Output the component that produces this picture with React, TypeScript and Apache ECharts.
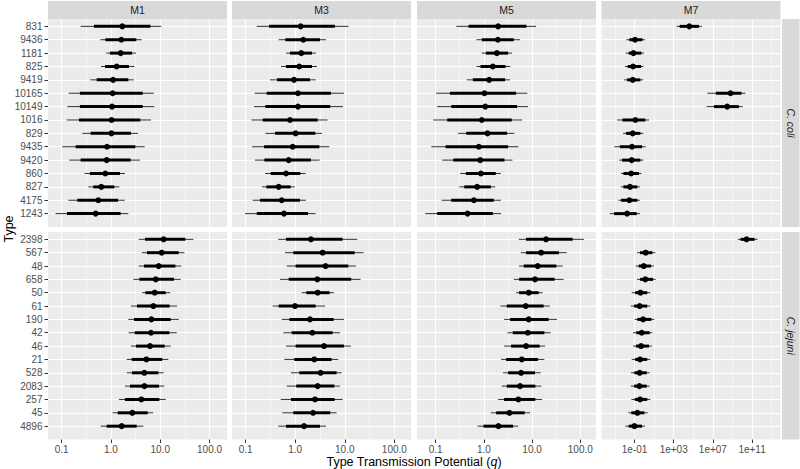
import React, { useEffect, useRef } from "react";
import * as echarts from "echarts";

// ---------- data ----------
const models = ["M1", "M3", "M5", "M7"];
const species = ["C. coli", "C. jejuni"];

const coliTypes = ["831", "9436", "1181", "825", "9419", "10165", "10149", "1016", "829", "9435", "9420", "860", "827", "4175", "1243"];
const jejuniTypes = ["2398", "567", "48", "658", "50", "61", "190", "42", "46", "21", "528", "2083", "257", "45", "4896"];

// each row: [lower 95%, lower 50%, median, upper 50%, upper 95%] in type order (top to bottom)
const coliM1 = [
  [0.242, 0.452, 1.7, 6.3, 10.5],
  [0.607, 0.767, 1.62, 3.27, 4.2],
  [0.804, 0.955, 1.57, 2.67, 3.22],
  [0.627, 0.755, 1.3, 2.32, 2.98],
  [0.38, 0.512, 1.1, 2.25, 2.89],
  [0.138, 0.234, 1.08, 4.4, 7.36],
  [0.13, 0.234, 1.05, 4.4, 7.59],
  [0.126, 0.224, 1.03, 3.94, 6.49],
  [0.262, 0.386, 1.02, 2.55, 3.53],
  [0.103, 0.192, 0.83, 3.12, 4.83],
  [0.142, 0.242, 0.817, 2.51, 3.88],
  [0.292, 0.374, 0.767, 1.52, 1.92],
  [0.347, 0.438, 0.636, 1.17, 1.48],
  [0.136, 0.207, 0.553, 1.39, 1.9],
  [0.075, 0.128, 0.489, 1.57, 2.25],
];
const coliM3 = [
  [0.168, 0.297, 1.29, 6.34, 11.9],
  [0.465, 0.634, 1.46, 3.16, 4.18],
  [0.654, 0.787, 1.33, 2.18, 2.63],
  [0.519, 0.654, 1.21, 2.18, 2.75],
  [0.311, 0.431, 0.947, 1.99, 2.59],
  [0.153, 0.267, 1.14, 5.26, 9.62],
  [0.148, 0.251, 1.14, 5.1, 9.18],
  [0.131, 0.222, 0.787, 2.84, 4.51],
  [0.251, 0.393, 1.02, 2.55, 3.47],
  [0.135, 0.236, 0.891, 3.07, 4.87],
  [0.155, 0.239, 0.74, 2.08, 3.11],
  [0.247, 0.321, 0.654, 1.27, 1.63],
  [0.215, 0.263, 0.465, 0.812, 0.977],
  [0.139, 0.196, 0.535, 1.25, 1.65],
  [0.0977, 0.168, 0.596, 1.81, 2.59],
];
const coliM5 = [
  [0.268, 0.482, 1.98, 7.63, 12.1],
  [0.705, 0.909, 1.95, 4.18, 5.65],
  [0.909, 1.1, 1.86, 3.19, 3.86],
  [0.705, 0.853, 1.54, 2.81, 3.51],
  [0.445, 0.592, 1.29, 2.76, 3.51],
  [0.103, 0.198, 1.03, 4.67, 8.0],
  [0.108, 0.211, 1.07, 4.89, 8.26],
  [0.0895, 0.174, 0.909, 3.8, 6.21],
  [0.294, 0.431, 1.19, 3.04, 4.31],
  [0.0814, 0.161, 0.788, 3.19, 5.21],
  [0.137, 0.232, 0.84, 2.68, 3.92],
  [0.324, 0.424, 0.867, 1.77, 2.25],
  [0.309, 0.392, 0.728, 1.4, 1.72],
  [0.133, 0.211, 0.621, 1.61, 2.25],
  [0.0611, 0.108, 0.459, 1.54, 2.28],
];
const coliM7 = [
  [2.0e3, 4.1e3, 3.9e4, 3.8e5, 7.6e5],
  [0.015, 0.03, 0.114, 0.64, 1.19],
  [0.0128, 0.0257, 0.0776, 0.505, 0.94],
  [0.011, 0.0205, 0.0715, 0.467, 0.81],
  [0.0087, 0.0175, 0.066, 0.4, 0.746],
  [2.7e6, 2.0e7, 6.3e8, 8.3e9, 2.1e10],
  [2.3e6, 1.3e7, 2.9e8, 4.5e9, 1.1e10],
  [0.00167, 0.00585, 0.123, 1.29, 3.05],
  [0.0069, 0.0138, 0.066, 0.4, 0.81],
  [0.00089, 0.0032, 0.056, 0.59, 1.39],
  [0.0027, 0.0054, 0.052, 0.4, 0.81],
  [0.0043, 0.0074, 0.045, 0.29, 0.505],
  [0.004, 0.0074, 0.035, 0.197, 0.37],
  [0.0023, 0.0043, 0.03, 0.197, 0.37],
  [0.0003, 0.00083, 0.0174, 0.17, 0.37],
];
const jejuniM1 = [
  [3.65, 4.91, 11.7, 32.3, 47.0],
  [4.2, 5.38, 10.7, 23.7, 30.9],
  [3.65, 4.68, 9.29, 20.3, 26.8],
  [2.84, 3.76, 8.08, 19.0, 26.0],
  [4.26, 4.98, 7.71, 12.9, 16.0],
  [2.55, 3.37, 7.24, 15.5, 21.9],
  [2.25, 2.93, 6.59, 16.3, 23.7],
  [2.28, 3.03, 6.49, 15.3, 21.6],
  [2.55, 3.22, 6.2, 12.3, 16.3],
  [2.08, 2.63, 5.22, 11.0, 14.6],
  [2.11, 2.67, 4.75, 9.15, 11.7],
  [1.92, 2.43, 4.75, 9.44, 12.1],
  [1.45, 1.92, 4.13, 9.59, 12.9],
  [1.08, 1.37, 2.71, 5.56, 7.13],
  [0.617, 0.817, 1.65, 3.32, 4.54],
];
const jejuniM3 = [
  [0.458, 0.654, 2.08, 9.04, 17.9],
  [0.624, 0.918, 3.58, 15.8, 23.9],
  [0.675, 1.02, 4.11, 11.8, 16.8],
  [0.495, 0.74, 2.8, 13.5, 20.8],
  [1.35, 1.68, 2.84, 4.95, 6.05],
  [0.352, 0.465, 0.99, 2.59, 3.99],
  [0.535, 0.764, 1.99, 5.96, 9.62],
  [0.578, 0.85, 2.22, 5.69, 8.0],
  [0.654, 1.02, 3.81, 9.62, 13.3],
  [0.605, 0.96, 2.43, 5.43, 7.4],
  [0.824, 1.21, 3.26, 6.85, 8.63],
  [0.675, 1.05, 2.84, 6.15, 8.0],
  [0.511, 0.824, 2.51, 6.24, 9.04],
  [0.552, 0.918, 2.29, 5.1, 6.85],
  [0.458, 0.654, 1.51, 3.16, 4.18],
];
const jejuniM5 = [
  [5.3, 7.51, 19.5, 69.4, 119],
  [5.83, 7.51, 15.4, 36.2, 52.1],
  [5.38, 6.72, 13.1, 31.9, 43.1],
  [4.18, 5.38, 11.5, 29.4, 45.2],
  [4.67, 5.38, 8.53, 13.7, 16.6],
  [2.21, 2.99, 7.39, 17.4, 23.2],
  [2.63, 3.51, 8.53, 22.1, 32.9],
  [3.09, 3.98, 8.13, 18.0, 24.3],
  [2.63, 3.68, 7.51, 14.4, 18.6],
  [2.28, 2.9, 6.11, 13.3, 18.0],
  [2.51, 3.19, 5.92, 11.5, 15.1],
  [2.36, 2.99, 5.65, 11.7, 15.6],
  [1.98, 2.63, 5.21, 11.7, 16.1],
  [1.4, 1.8, 3.4, 7.05, 9.09],
  [0.74, 0.984, 2.01, 4.04, 5.13],
];
const jejuniM7 = [
  [3.5e9, 6.6e9, 2.7e10, 1.8e11, 3.6e11],
  [0.18, 0.37, 1.39, 6.6, 13.5],
  [0.134, 0.27, 0.87, 4.9, 9.8],
  [0.18, 0.37, 1.29, 7.8, 14.6],
  [0.052, 0.115, 0.4, 2.0, 4.17],
  [0.041, 0.091, 0.34, 2.0, 4.17],
  [0.106, 0.197, 0.75, 5.3, 10.6],
  [0.071, 0.154, 0.55, 3.55, 6.6],
  [0.071, 0.144, 0.47, 3.03, 6.1],
  [0.052, 0.115, 0.37, 2.0, 4.17],
  [0.045, 0.098, 0.34, 1.76, 3.55],
  [0.041, 0.091, 0.32, 1.76, 3.55],
  [0.048, 0.106, 0.37, 2.0, 4.17],
  [0.024, 0.048, 0.197, 1.02, 2.24],
  [0.0118, 0.0257, 0.098, 0.59, 1.19],
];

// tick values (q)
const majorTicksQ = [0.1, 1, 10, 100];
const minorTicksQ = [0.3162, 3.162, 31.62, 316.2];
const majorTicksM7 = [0.1, 1e3, 1e7, 1e11];
const minorTicksM7 = [1e-3, 10, 1e5, 1e9, 1e13];

// ---------- layout ----------
const FONT = "'Liberation Sans', Arial, Helvetica, sans-serif";
const colLeft = [48, 232, 417, 601.5];
const panelW = 179;
const rowTop = [19, 232];
const rowH = [208, 207.5];
// panel x extents in log10 units
const xRange = [
  [-1.278, 2.354],
  [-1.274, 2.336],
  [-1.386, 2.326],
  [-4.367, 13.9],
];

const panelData = [
  [coliM1, coliM3, coliM5, coliM7],
  [jejuniM1, jejuniM3, jejuniM5, jejuniM7],
];
const rowTypes = [coliTypes, jejuniTypes];

const lg = (v: number) => Math.log10(v);

function fmtLinear(v: number) {
  return Math.pow(10, v).toFixed(1);
}
function fmtSci(v: number) {
  const e = Math.round(v);
  const s = String(Math.abs(e)).padStart(2, "0");
  return "1e" + (e < 0 ? "-" : "+") + s;
}

export default function App() {
  const ref = useRef<HTMLDivElement>(null);

  useEffect(() => {
    document.body.style.margin = "0";
    const chart = echarts.init(ref.current!, null, { renderer: "svg" });

    const grids: any[] = [];
    const xAxes: any[] = [];
    const yAxes: any[] = [];
    const series: any[] = [];
    const graphics: any[] = [];

    const yIdx = Array.from({ length: 15 }, (_, i) => i);

    for (let r = 0; r < 2; r++) {
      for (let c = 0; c < 4; c++) {
        const p = r * 4 + c;
        grids.push({
          left: colLeft[c],
          top: rowTop[r],
          width: panelW,
          height: rowH[r],
          show: true,
          backgroundColor: "#EBEBEB",
          borderWidth: 0,
        });
        const majors = (c === 3 ? majorTicksM7 : majorTicksQ).map(lg);
        const minors = (c === 3 ? minorTicksM7 : minorTicksQ).map(lg);
        xAxes.push({
          type: "value",
          gridIndex: p,
          position: "bottom",
          min: xRange[c][0],
          max: xRange[c][1],
          axisLine: { show: false, onZero: false },
          axisTick: {
            show: r === 1,
            length: 3.5,
            lineStyle: { color: "#333333", width: 1 },
            customValues: majors,
          },
          axisLabel: {
            show: r === 1,
            customValues: majors,
            color: "#4D4D4D",
            fontSize: 10,
            fontFamily: FONT,
            margin: 5,
            formatter: (v: number) => (c === 3 ? fmtSci(v) : fmtLinear(v)),
          },
          splitLine: { show: true, lineStyle: { color: "#FFFFFF", width: 1.1 } },
        });
        xAxes.push({
          type: "value",
          gridIndex: p,
          position: "top",
          min: xRange[c][0],
          max: xRange[c][1],
          axisLine: { show: false, onZero: false },
          axisTick: { show: false, customValues: minors },
          axisLabel: { show: false, customValues: minors },
          splitLine: { show: true, lineStyle: { color: "#FFFFFF", width: 0.55 } },
        });
        const types = rowTypes[r];
        yAxes.push({
          type: "value",
          gridIndex: p,
          position: "left",
          min: -1,
          max: 14.55,
          axisLine: { show: false, onZero: false },
          axisTick: {
            show: c === 0,
            length: 3.5,
            lineStyle: { color: "#333333", width: 1 },
            customValues: yIdx,
          },
          axisLabel: {
            show: c === 0,
            customValues: yIdx,
            color: "#4D4D4D",
            fontSize: 10,
            fontFamily: FONT,
            margin: 5.5,
            formatter: (v: number) => types[14 - Math.round(v)] ?? "",
          },
          splitLine: { show: true, lineStyle: { color: "#FFFFFF", width: 1.1 } },
        });
        const rows = panelData[r][c];
        const data = rows.map((row, i) => [14 - i, lg(row[0]), lg(row[1]), lg(row[2]), lg(row[3]), lg(row[4])]);
        series.push({
          type: "custom",
          xAxisIndex: p * 2,
          yAxisIndex: p,
          clip: false,
          encode: { x: [1, 2, 3, 4, 5], y: 0 },
          data,
          renderItem: (_params: any, api: any) => {
            const y = api.value(0);
            const a = api.coord([api.value(1), y]);
            const b = api.coord([api.value(2), y]);
            const m = api.coord([api.value(3), y]);
            const d = api.coord([api.value(4), y]);
            const e = api.coord([api.value(5), y]);
            return {
              type: "group",
              children: [
                { type: "line", shape: { x1: a[0], y1: a[1], x2: e[0], y2: e[1] }, style: { stroke: "#333333", lineWidth: 1 } },
                { type: "line", shape: { x1: b[0], y1: b[1], x2: d[0], y2: d[1] }, style: { stroke: "#000000", lineWidth: 3 } },
                { type: "circle", shape: { cx: m[0], cy: m[1], r: 3 }, style: { fill: "#000000" } },
              ],
            };
          },
        });
      }
    }

    // strips on top
    for (let c = 0; c < 4; c++) {
      graphics.push({
        type: "rect",
        shape: { x: colLeft[c], y: 1, width: panelW, height: 18 },
        style: { fill: "#D9D9D9" },
        silent: true,
      });
      graphics.push({
        type: "text",
        x: colLeft[c] + panelW / 2,
        y: 10,
        style: {
          text: models[c],
          fill: "#1A1A1A",
          fontSize: 10.5,
          fontFamily: FONT,
          align: "center",
          verticalAlign: "middle",
        },
        silent: true,
      });
    }
    // strips on the right
    const stripX = colLeft[3] + panelW + 1.5;
    for (let r = 0; r < 2; r++) {
      graphics.push({
        type: "rect",
        shape: { x: stripX, y: rowTop[r], width: 17.5, height: rowH[r] },
        style: { fill: "#D9D9D9" },
        silent: true,
      });
      graphics.push({
        type: "text",
        x: stripX + 8.75,
        y: rowTop[r] + rowH[r] / 2,
        rotation: -Math.PI / 2,
        style: {
          text: species[r],
          fill: "#1A1A1A",
          fontSize: 10.5,
          fontStyle: "italic",
          fontFamily: FONT,
          align: "center",
          verticalAlign: "middle",
        },
        silent: true,
      });
    }
    // axis titles
    graphics.push({
      type: "text",
      x: 9,
      y: 229,
      rotation: Math.PI / 2,
      style: {
        text: "Type",
        fill: "#000000",
        fontSize: 12.5,
        fontFamily: FONT,
        align: "center",
        verticalAlign: "middle",
      },
      silent: true,
    });
    graphics.push({
      type: "text",
      x: 414,
      y: 462,
      style: {
        text: "{a|Type Transmission Potential (}{b|q}{a|)}",
        align: "center",
        verticalAlign: "middle",
        rich: {
          a: { fontSize: 12.5, fontFamily: FONT, fill: "#000000", color: "#000000" },
          b: { fontSize: 12.5, fontFamily: FONT, fontStyle: "italic", fill: "#000000", color: "#000000" },
        },
      },
      silent: true,
    });

    chart.setOption({
      animation: false,
      backgroundColor: "#FFFFFF",
      textStyle: { fontFamily: FONT },
      grid: grids,
      xAxis: xAxes,
      yAxis: yAxes,
      series,
      graphic: graphics,
    });

    return () => chart.dispose();
  }, []);

  return (
    <div
      ref={ref}
      style={{ position: "absolute", left: 0, top: 0, width: 800, height: 469 }}
    />
  );
}
